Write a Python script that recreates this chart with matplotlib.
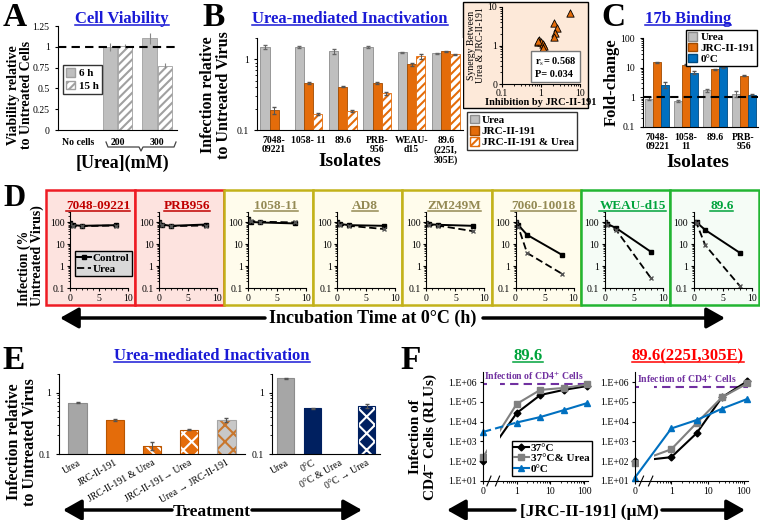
import numpy as np
import matplotlib
matplotlib.use('Agg')
import matplotlib.pyplot as plt
from matplotlib.patches import Rectangle, Patch, FancyArrowPatch
from matplotlib.lines import Line2D
from matplotlib.ticker import FixedLocator, NullLocator, NullFormatter

plt.rcParams['font.family'] = ['Liberation Serif', 'DejaVu Serif']
plt.rcParams['mathtext.fontset'] = 'stix'
plt.rcParams['hatch.linewidth'] = 1.5
plt.rcParams['axes.linewidth'] = 0.8
plt.rcParams['xtick.major.size'] = 2.5
plt.rcParams['ytick.major.size'] = 2.5
plt.rcParams['xtick.minor.size'] = 1.5
plt.rcParams['ytick.minor.size'] = 1.5

# ---------------- data ----------------
# A: cell viability
a_cats = ['No cells', '200', '300']
a_6h = [np.nan, 1.00, 1.10]
a_15h = [np.nan, 1.01, 0.77]
a_6h_err = [0, 0.05, 0.07]
a_15h_err = [0, 0.02, 0.03]

# B: urea-mediated inactivation
b_isolates = ['7048-\n09221', '1058- 11', '89.6', 'PRB-\n956', 'WEAU-\nd15', '89.6\n(225I,\n305E)']
b_urea = [1.50, 1.50, 1.30, 1.50, 1.25, 1.22]
b_jrc = [0.19, 0.46, 0.41, 0.46, 0.85, 1.30]
b_both = [np.nan, 0.17, 0.185, 0.33, 1.10, 1.18]
b_urea_err = [0.08, 0.05, 0.12, 0.05, 0.02, 0.02]
b_jrc_err = [0.02, 0.01, 0.01, 0.02, 0.04, 0.02]
b_both_err = [0, 0.005, 0.005, 0.02, 0.08, 0.02]

# B inset: synergy vs inhibition
syn_inhib = [5.5, 2.2, 2.6, 2.35, 2.1, 0.9, 0.85, 1.0, 1.12, 1.2, 1.12, 0.82]
syn_synergy = [7.0, 3.8, 2.85, 2.1, 1.66, 1.39, 1.23, 1.2, 1.1, 0.95, 0.85, 1.3]

# C: 17b binding
c_isolates = ['7048-\n09221', '1058-\n11', '89.6', 'PRB-\n956']
c_urea = [0.90, 0.75, 1.75, 1.30]
c_jrc = [15.0, 12.5, 8.7, 5.3]
c_cold = [2.6, 6.8, 10.3, 1.2]
c_urea_err = [0.10, 0.08, 0.20, 0.30]
c_jrc_err = [0.3, 0.3, 0.3, 0.2]
c_cold_err = [0.6, 0.7, 0.8, 0.1]

# D: incubation at 0 C
d_times = [0, 0.5, 2, 8]
d_names = ['7048-09221', 'PRB956', '1058-11', 'AD8', 'ZM249M', '7060-10018', 'WEAU-d15', '89.6']
d_group = ['red', 'red', 'olive', 'olive', 'olive', 'olive', 'green', 'green']
d_control = [[90, 75, 70, 75], [100, 80, 70, 80], [150, 105, 100, 90], [100, 85, 75, 70],
             [95, 82, 78, 70], [100, 75, 27, 3.3], [100, 85, 55, 4.5], [100, 100, 45, 4.0]]
d_urea = [[85, 72, 68, 72], [95, 78, 68, 72], [130, 115, 108, 100], [95, 80, 70, 50],
          [90, 80, 72, 40], [100, 60, 4.0, 0.45], [100, 80, 45, 0.28], [100, 90, 9.0, 0.12]]

# E: treatments
e1_labels = ['Urea', 'JRC-II-191', 'JRC-II-191 & Urea', 'JRC-II-191\u2192 Urea', 'Urea \u2192 JRC-II-191']
e1_vals = [0.68, 0.36, 0.135, 0.25, 0.36]
e1_err = [0.01, 0.01, 0.02, 0.005, 0.025]
e2_labels = ['Urea', '0\u00b0C', '0\u00b0C & Urea', '0\u00b0C \u2192 Urea']
e2_vals = [1.70, 0.55, np.nan, 0.60]
e2_err = [0.05, 0.02, 0, 0.04]

# F: JRC-II-191 titration
f_conc = [0, 1, 5, 25, 125]
f1_37 = [1.0e2, 2.7e4, 2.2e5, 4.0e5, 6.3e5]
f1_37u = [1.6e2, 7.8e4, 4.0e5, 5.0e5, 7.5e5]
f1_0 = [3.0e3, 9.0e3, 1.7e4, 3.8e4, 8.7e4]
f1_cd4 = 7.9e5
f2_37 = [1.0e2, 1.6e2, 2.6e3, 1.7e5, 1.1e6]
f2_37u = [8.5e1, 4.0e2, 8.5e3, 1.7e5, 8.5e5]
f2_0 = [1.5e1, 4.5e3, 1.2e4, 4.5e4, 1.4e5]
f2_cd4 = 5.6e5

# ---------------- helpers ----------------
W, H = 760, 520
fig = plt.figure(figsize=(7.6, 5.2), dpi=100)
renderer = fig.canvas.get_renderer()

GRAY = '#bfbfbf'
ORANGE = '#e46c0a'
BLUE = '#0070c0'
NAVY = '#002060'
TBLUE = '#1a1ad6'


def px_axes(l, t, r, b, **kw):
    return fig.add_axes([l / W, 1 - b / H, (r - l) / W, (b - t) / H], **kw)


def ftext(x, y, s, **kw):
    return fig.text(x / W, 1 - y / H, s, **kw)


def utext(x, y, s, color, size):
    t = ftext(x, y, s, color=color, fontsize=size, fontweight='bold', ha='center', va='baseline')
    bb = t.get_window_extent(renderer)
    yy = 1 - (y + 2) / H
    fig.add_artist(Line2D([bb.x0 / W, bb.x1 / W], [yy, yy], color=color, lw=1.1))


def farrow(x0, x1, y):
    fig.add_artist(FancyArrowPatch((x0 / W, 1 - y / H), (x1 / W, 1 - y / H), transform=fig.transFigure,
                                   arrowstyle='-|>,head_length=0.8,head_width=0.45', mutation_scale=14,
                                   lw=2.5, color='k', shrinkA=0, shrinkB=0))


def ylab(x, y, s, size=11, align='center'):
    ftext(x, y, s, rotation=90, ha='center', va='center', fontsize=size, fontweight='bold',
          multialignment=align, linespacing=0.95)


def letter(x, y, s, size=24):
    ftext(x, y, s, fontsize=size, fontweight='bold', va='baseline')


def clean(ax):
    ax.spines['top'].set_visible(False)
    ax.spines['right'].set_visible(False)
    ax.tick_params(labelsize=7)


def logticks(ax, ticks, labels):
    ax.yaxis.set_major_locator(FixedLocator(ticks))
    ax.set_yticklabels(labels)
    ax.yaxis.set_minor_formatter(NullFormatter())


BOLD = {'weight': 'bold', 'size': 8}

# ---------------- panel A ----------------
ax = px_axes(58, 26, 177, 130)
clean(ax)
xa = np.arange(len(a_cats))
ax.bar(xa - 0.19, a_6h, 0.36, color=GRAY, edgecolor='#a0a0a0', lw=0.6,
       yerr=a_6h_err, error_kw=dict(ecolor='#888888', lw=0.8))
ax.bar(xa + 0.19, a_15h, 0.36, color='white', edgecolor='#a0a0a0', hatch='////', lw=0.6,
       yerr=a_15h_err, error_kw=dict(ecolor='#888888', lw=0.8))
ax.axhline(1, color='k', ls=(0, (4, 2.5)), lw=1.5)
ax.set_xlim(-0.5, 2.5)
ax.set_ylim(0, 1.25)
ax.set_yticks([0, 0.25, 0.5, 0.75, 1, 1.25])
ax.set_yticklabels(['0', '0.25', '0.5', '0.75', '1', '1.25'])
ax.set_xticks(xa)
ax.set_xticklabels(a_cats, fontweight='bold', fontsize=7)
ax.tick_params(axis='x', length=0, pad=6)
ax.legend([Patch(facecolor=GRAY, edgecolor='#a0a0a0'), Patch(facecolor='white', edgecolor='#a0a0a0', hatch='////')],
          ['6 h', '15 h'], loc='upper left', bbox_to_anchor=(63 / W, 1 - 65 / H), bbox_transform=fig.transFigure,
          prop=BOLD, frameon=True, fancybox=False, edgecolor='k', handlelength=0.8, handleheight=0.8,
          handletextpad=0.3, borderpad=0.3, labelspacing=0.2, borderaxespad=0)
brx = [106, 108, 139, 141, 143, 174, 176]
bry = [142, 147, 147, 151, 147, 147, 142]
fig.add_artist(Line2D([v / W for v in brx], [1 - v / H for v in bry], color='#444444', lw=0.9))
ftext(122, 168, '[Urea](mM)', ha='center', fontsize=13, fontweight='bold')
ylab(20, 95, 'Viability relative\nto Untreated Cells', 10)
letter(3, 26, 'A')
utext(122, 23, 'Cell Viability', TBLUE, 12)

# ---------------- panel B ----------------
ax = px_axes(257, 38, 463, 130)
clean(ax)
ax.set_yscale('log')
xb = np.arange(len(b_isolates))
bw = 0.27
ax.bar(xb - bw, b_urea, bw, color=GRAY, edgecolor='#8c8c8c', lw=0.6,
       yerr=b_urea_err, error_kw=dict(ecolor='#666666', lw=0.7, capsize=1.5))
ax.bar(xb, b_jrc, bw, color=ORANGE, edgecolor='#a04a00', lw=0.6,
       yerr=b_jrc_err, error_kw=dict(ecolor='#555555', lw=0.7, capsize=1.5))
ax.bar(xb + bw, b_both, bw, color='white', edgecolor=ORANGE, hatch='////', lw=0.6,
       yerr=b_both_err, error_kw=dict(ecolor='#555555', lw=0.7, capsize=1.5))
ax.set_xlim(-0.5, len(b_isolates) - 0.5)
ax.set_ylim(0.1, 2)
logticks(ax, [0.1, 1], ['0.1', '1'])
ax.set_xticks(xb)
ax.set_xticklabels(b_isolates, fontweight='bold', fontsize=7, linespacing=1.1)
ax.tick_params(axis='x', length=0, pad=4)
ftext(350, 166, 'Isolates', ha='center', fontsize=14, fontweight='bold')
ylab(216, 95, 'Infection relative\nto Untreated Virus', 11.5)
letter(202, 26, 'B')
utext(350, 23, 'Urea-mediated Inactivation', TBLUE, 12)
fig.legend([Patch(facecolor=GRAY, edgecolor='#8c8c8c'), Patch(facecolor=ORANGE, edgecolor='#a04a00'),
            Patch(facecolor='white', edgecolor=ORANGE, hatch='////')],
           ['Urea', 'JRC-II-191', 'JRC-II-191 & Urea'], loc='upper left',
           bbox_to_anchor=(467 / W, 1 - 112 / H), prop=BOLD, frameon=True, fancybox=False, edgecolor='k',
           handlelength=0.8, handleheight=0.8, handletextpad=0.3, borderpad=0.25, labelspacing=0.1,
           borderaxespad=0)

# inset
fig.add_artist(Rectangle((463 / W, 1 - 108 / H), 125 / W, 106 / H, transform=fig.transFigure,
                         facecolor='#fde9d9', edgecolor='k', lw=1, zorder=-1))
ai = px_axes(502, 7, 580, 84, facecolor='none')
clean(ai)
ai.set_xscale('log')
ai.set_yscale('log')
ai.scatter(syn_inhib, syn_synergy, marker='^', s=28, color=ORANGE, edgecolor='k', lw=0.6, zorder=3)
ai.set_xlim(0.1, 10)
ai.set_ylim(0.1, 10)
logticks(ai, [0.1, 1, 10], ['0', '1', '10'])
ai.xaxis.set_major_locator(FixedLocator([0.1, 1, 10]))
ai.set_xticklabels(['0.1', '1', '10'])
ai.xaxis.set_minor_formatter(NullFormatter())
ai.tick_params(labelsize=7, pad=1)
ai.set_xlabel('Inhibition by JRC-II-191', fontsize=7.5, fontweight='bold', labelpad=0)
ai.set_ylabel('Synergy Between\nUrea & JRC-II-191', fontsize=7, labelpad=2, linespacing=1.0)
ai.text(0.42, 0.07, 'r$_{\\rm s}$= 0.568\nP= 0.034', transform=ai.transAxes, fontsize=7.5, fontweight='bold',
        ha='left', va='bottom', bbox=dict(boxstyle='square,pad=0.35', fc='white', ec='#777777', lw=1))

# ---------------- panel C ----------------
ax = px_axes(643, 38, 758, 127)
clean(ax)
ax.set_yscale('log')
xc = np.arange(len(c_isolates))
cw = 0.28
ax.bar(xc - cw, c_urea, cw, color=GRAY, edgecolor='#8c8c8c', lw=0.6,
       yerr=c_urea_err, error_kw=dict(ecolor='#666666', lw=0.7, capsize=1.2))
ax.bar(xc, c_jrc, cw, color=ORANGE, edgecolor='#a04a00', lw=0.6,
       yerr=c_jrc_err, error_kw=dict(ecolor='#555555', lw=0.7, capsize=1.2))
ax.bar(xc + cw, c_cold, cw, color=BLUE, edgecolor='#004a80', lw=0.6,
       yerr=c_cold_err, error_kw=dict(ecolor='#555555', lw=0.7, capsize=1.2))
ax.axhline(1, color='k', ls=(0, (4, 2.5)), lw=1.5)
ax.set_xlim(-0.5, len(c_isolates) - 0.5)
ax.set_ylim(0.1, 100)
logticks(ax, [0.1, 1, 10, 100], ['0.1', '1', '10', '100'])
ax.set_xticks(xc)
ax.set_xticklabels(c_isolates, fontweight='bold', fontsize=7, linespacing=1.1)
ax.tick_params(axis='x', length=0, pad=4)
ftext(698, 167, 'Isolates', ha='center', fontsize=14, fontweight='bold')
ylab(612, 82, 'Fold-change', 12)
letter(601, 26, 'C')
utext(688, 23, '17b Binding', TBLUE, 12)
fig.legend([Patch(facecolor=GRAY, edgecolor='#8c8c8c'), Patch(facecolor=ORANGE, edgecolor='#a04a00'),
            Patch(facecolor=BLUE, edgecolor='#004a80')],
           ['Urea', 'JRC-II-191', '0\u00b0C'], loc='upper left',
           bbox_to_anchor=(686 / W, 1 - 30 / H), prop=BOLD, frameon=True, fancybox=False, edgecolor='k',
           handlelength=0.8, handleheight=0.8, handletextpad=0.3, borderpad=0.2, labelspacing=0.05,
           borderaxespad=0, framealpha=1)

# ---------------- panel D ----------------
d_edge = {'red': '#ee1c24', 'olive': '#c3b21a', 'green': '#22b532'}
d_fill = {'red': '#fde3df', 'olive': '#fffcec', 'green': '#f5fcf6'}
d_title = {'red': '#c00000', 'olive': '#948a54', 'green': '#00a33c'}
box_w = 89.1
for i, name in enumerate(d_names):
    x0 = 46 + i * box_w
    g = d_group[i]
    fig.add_artist(Rectangle((x0 / W, 1 - 305 / H), box_w / W, 115 / H, transform=fig.transFigure,
                             facecolor=d_fill[g], edgecolor=d_edge[g], lw=1.8, zorder=-1))
    ax = px_axes(x0 + 24, 212, x0 + 82, 288, facecolor='none')
    clean(ax)
    ax.set_yscale('log')
    ax.plot(d_times, d_control[i], color='k', lw=1.4, marker='s', ms=3)
    ax.plot(d_times, d_urea[i], color='k', lw=1.3, ls=(0, (4, 2)), marker='x', ms=3, mec='#555555')
    ax.set_xlim(0, 10)
    ax.set_ylim(0.1, 300)
    logticks(ax, [0.1, 1, 10, 100], ['0.1', '1', '10', '100'])
    ax.set_xticks([0, 5, 10])
    ax.xaxis.set_minor_locator(FixedLocator(np.arange(0, 11)))
    ax.tick_params(labelsize=7, pad=1.5)
    utext(x0 + 52, 209, name, d_title[g], 9.5)
    if i == 0:
        ax.legend([Line2D([], [], color='k', lw=1.4, marker='s', ms=3),
                   Line2D([], [], color='k', lw=1.3, ls=(0, (4, 2)))],
                  ['Control', 'Urea'], loc='upper left', bbox_to_anchor=(75 / W, 1 - 251 / H),
                  bbox_transform=fig.transFigure, prop={'weight': 'bold', 'size': 8}, frameon=True,
                  fancybox=False, edgecolor='k', facecolor='#d9d9d9', framealpha=1, handlelength=1.2,
                  handletextpad=0.2, borderpad=0.2, labelspacing=0.1, borderaxespad=0)
ylab(31, 256, 'Infection (%\nUntreated Virus)', 10, 'left')
letter(3, 206, 'D', 22)
farrow(265, 60, 318)
farrow(483, 725, 318)
ftext(373, 323, 'Incubation Time at 0\u00b0C (h)', ha='center', fontsize=13, fontweight='bold')


# ---------------- panel E ----------------
def e_bar(ax, x, v, w, face, hatch_col, hatch, outline):
    if np.isnan(v):
        return
    ax.bar(x, v, w, color=face, edgecolor=hatch_col, hatch=hatch, lw=0)
    ax.bar(x, v, w, fill=False, edgecolor=outline, lw=0.8)


ax1 = px_axes(59, 374, 245, 454)
ax2 = px_axes(272, 374, 380, 454)
e1_style = [('#a6a6a6', '#a6a6a6', None, '#8c8c8c'),
            (ORANGE, ORANGE, None, '#b85500'),
            (ORANGE, 'white', '\\\\\\', '#b85500'),
            (ORANGE, 'white', 'xx', '#b85500'),
            ('#c8c8c8', '#c8772e', 'xx', '#a6a6a6')]
e2_style = [('#a6a6a6', '#a6a6a6', None, '#8c8c8c'),
            (NAVY, NAVY, None, NAVY),
            (NAVY, NAVY, None, NAVY),
            (NAVY, 'white', 'xx', NAVY)]
for axe, labels, vals, errs, styles, w in [(ax1, e1_labels, e1_vals, e1_err, e1_style, 0.49),
                                          (ax2, e2_labels, e2_vals, e2_err, e2_style, 0.63)]:
    clean(axe)
    axe.set_yscale('log')
    xe = np.arange(len(labels))
    for j in range(len(labels)):
        e_bar(axe, xe[j], vals[j], w, *styles[j])
    axe.errorbar(xe, vals, yerr=errs, fmt='none', ecolor='#555555', lw=0.8, capsize=1.5)
    axe.set_xlim(-0.5, len(labels) - 0.5)
    axe.set_ylim(0.1, 2)
    logticks(axe, [0.1, 1], ['0.1', '1'])
    axe.set_xticks(xe)
    axe.set_xticklabels(labels, rotation=30, ha='right', rotation_mode='anchor', fontsize=7)
    axe.tick_params(axis='x', length=0, pad=3)
ylab(22, 442, 'Infection relative\nto Untreated Virus', 11.5)
letter(2, 369, 'E')
utext(212, 360, 'Urea-mediated Inactivation', TBLUE, 12)
farrow(172, 63, 510)
farrow(252, 362, 510)
ftext(212, 516, 'Treatment', ha='center', fontsize=12.5, fontweight='bold')

# ---------------- panel F ----------------
conc = np.array(f_conc, dtype=float)
xf = np.where(conc == 0, 0.1, conc)  # "0" sits left of the axis break
for (l, r), s37, s37u, s0, cd4, first_dash in [((483, 588), f1_37, f1_37u, f1_0, f1_cd4, True),
                                               ((635, 748), f2_37, f2_37u, f2_0, f2_cd4, False)]:
    ax = px_axes(l, 372, r, 481, facecolor='none')
    clean(ax)
    ax.set_xscale('log')
    ax.set_yscale('log')
    ax.plot(xf, s37, color='k', lw=1.5, marker='D', ms=3.5, zorder=2.1, clip_on=False)
    ax.plot(xf, s37u, color='#808080', lw=1.5, marker='s', ms=5, zorder=2.2, clip_on=False)
    ax.axvspan(0.13, 0.33, color='white', zorder=2.3, lw=0)
    ax.plot(xf[:2], s0[:2], color=BLUE, lw=1.5, ls=(0, (4, 2)) if first_dash else '-', zorder=2.4,
            clip_on=False)
    ax.plot(xf[1:], s0[1:], color=BLUE, lw=1.5, zorder=2.4)
    ax.plot(xf, s0, color=BLUE, ls='none', marker='^', ms=5, zorder=2.5, clip_on=False)
    ax.axhline(cd4, color='#7030a0', ls=(0, (4, 2.5)), lw=1.5)
    ax.text(0.11, cd4 * 1.2, 'Infection of CD4$^{\\mathbf{+}}$ Cells', color='#7030a0', fontsize=7,
            fontweight='bold', va='bottom', ha='left')
    ax.set_xlim(0.1, 130)
    ax.set_ylim(10, 3.2e6)
    ax.xaxis.set_major_locator(FixedLocator([0.1, 1, 10, 100]))
    ax.set_xticklabels(['0', '1', '10', '100'])
    minors = [m * d for d in (0.1, 1, 10) for m in range(2, 10) if m * d > 0.35]
    ax.xaxis.set_minor_locator(FixedLocator(minors))
    ax.xaxis.set_minor_formatter(NullFormatter())
    ax.yaxis.set_major_locator(FixedLocator([1e1, 1e2, 1e3, 1e4, 1e5, 1e6]))
    ax.set_yticklabels(['1.E+01', '1.E+02', '1.E+03', '1.E+04', '1.E+05', '1.E+06'])
    ax.yaxis.set_minor_locator(NullLocator())
    ax.tick_params(labelsize=7, pad=2)
    tr = ax.get_xaxis_transform()
    for xb0 in (0.15, 0.27):
        ax.plot([xb0 / 1.15, xb0 * 1.15], [-0.045, 0.045], color='k', lw=0.8, transform=tr, clip_on=False,
                zorder=3)
    if first_dash:
        ax.legend([Line2D([], [], color='k', lw=1.5, marker='D', ms=3.5),
                   Line2D([], [], color='#808080', lw=1.5, marker='s', ms=5),
                   Line2D([], [], color=BLUE, lw=1.5, marker='^', ms=5)],
                  ['37\u00b0C', '37\u00b0C& Urea', '0\u00b0C'], loc='upper left',
                  bbox_to_anchor=(512 / W, 1 - 441 / H), bbox_transform=fig.transFigure,
                  prop={'weight': 'bold', 'size': 8}, frameon=True, fancybox=False, edgecolor='k',
                  framealpha=1, handlelength=1.3, handletextpad=0.2, borderpad=0.2, labelspacing=0.05,
                  borderaxespad=0)
utext(528, 360, '89.6', '#00a33c', 12)
utext(688, 360, '89.6(225I,305E)', '#ff0000', 12)
letter(400, 369, 'F')
ylab(424, 437, 'Infection of\nCD4$^{\\mathbf{-}}$ Cells (RLUs)', 11)
farrow(515, 447, 510)
farrow(662, 745, 510)
ftext(589, 516, '[JRC-II-191] (\u00b5M)', ha='center', fontsize=12.5, fontweight='bold')

fig.savefig('out.png', dpi=100)
